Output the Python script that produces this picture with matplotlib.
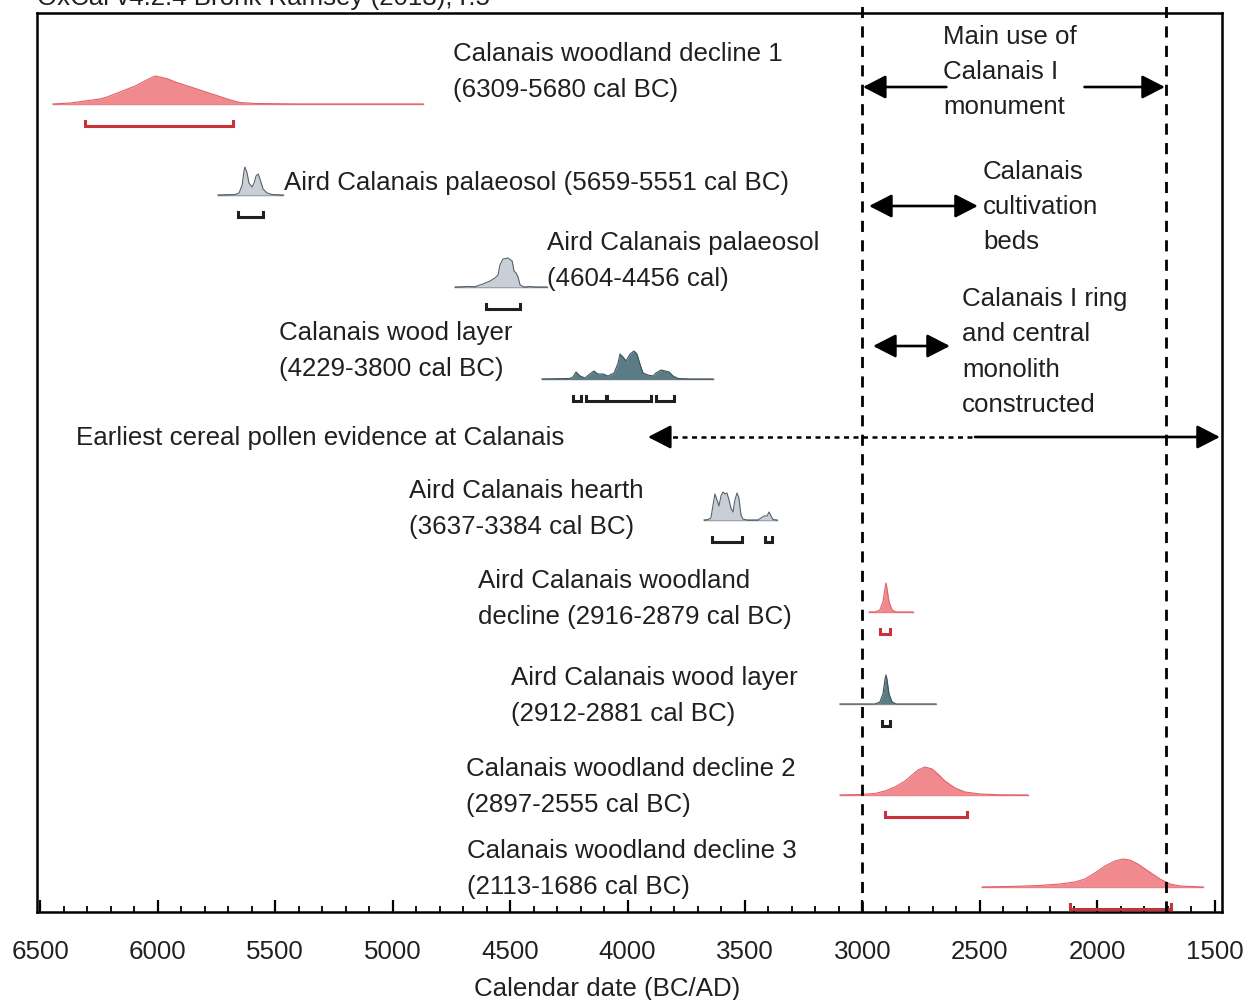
"""OxCal multi-plot: Calanais radiocarbon dates against monument phases."""

import matplotlib

matplotlib.use("Agg")
import matplotlib.pyplot as plt

plt.rcParams["font.family"] = ["Liberation Sans", "DejaVu Sans"]

TEXT = "#231f20"
FS = 18.6

# --- probability distributions (calendar year BC, relative height) ---
decline1_years = [6445, 6370, 6310, 6245, 6215, 6160, 6095, 6055, 6020, 6010, 5990,
                  5955, 5925, 5885, 5820, 5755, 5690, 5650, 5585, 5395, 4870]
decline1_dens = [0, 1, 3, 5, 7, 12, 18, 23, 27, 28, 27, 25, 22, 19, 14, 9, 4, 1.5, 0.5, 0, 0]

palaeo1_years = [5743, 5670, 5653, 5640, 5632, 5628, 5619, 5611, 5598, 5589, 5581,
                 5572, 5564, 5551, 5534, 5513, 5466]
palaeo1_dens = [0, 0.5, 2, 10, 24, 28, 22, 12, 8, 12, 19, 21, 16, 6, 2, 0.5, 0]

palaeo2_years = [4734, 4679, 4649, 4615, 4585, 4564, 4551, 4543, 4530, 4509, 4491,
                 4483, 4474, 4466, 4457, 4440, 4415, 4394, 4343]
palaeo2_dens = [0, 0.5, 0.3, 3, 6, 9, 12, 22, 28, 29, 26, 16, 14, 10, 2, 0, 0.5, 0, 0]

wood_years = [4364, 4245, 4232, 4219, 4202, 4181, 4160, 4143, 4126, 4104, 4083, 4057,
              4040, 4032, 4019, 4006, 3989, 3972, 3960, 3947, 3934, 3913, 3891, 3879,
              3857, 3840, 3823, 3806, 3785, 3734, 3636]
wood_dens = [0, 0.5, 2, 7, 3, 1, 5, 8, 5, 5, 3, 6, 16, 25, 22, 18, 25, 28, 25, 15, 6,
             4, 3, 6, 9, 8, 7, 3, 0.5, 0, 0]

hearth_years = [3674, 3657, 3645, 3636, 3628, 3619, 3611, 3602, 3594, 3585, 3577, 3568,
                3560, 3551, 3543, 3534, 3526, 3517, 3509, 3491, 3445, 3432, 3419, 3406,
                3398, 3389, 3381, 3364]
hearth_dens = [0, 0.5, 2, 15, 26, 20, 14, 24, 28, 26, 27, 20, 12, 8, 20, 27, 22, 5, 1,
               0, 0, 2, 4, 4, 8, 4, 0.5, 0]

aird_decl_years = [2972, 2947, 2926, 2913, 2904, 2900, 2896, 2887, 2874, 2857, 2785]
aird_decl_dens = [0, 0, 2, 10, 24, 29, 24, 10, 2, 0, 0]

aird_wood_years = [3096, 2947, 2926, 2913, 2904, 2900, 2896, 2887, 2874, 2857, 2687]
aird_wood_dens = [0, 0, 2, 10, 25, 29, 25, 10, 2, 0, 0]

decline2_years = [3096, 3011, 2947, 2904, 2862, 2819, 2789, 2764, 2734, 2704, 2679,
                  2649, 2606, 2564, 2500, 2415, 2296]
decline2_dens = [0, 0.5, 1.5, 4, 8, 14, 20, 25, 28, 26, 21, 14, 7, 3, 1, 0.2, 0]

decline3_years = [2491, 2372, 2245, 2160, 2096, 2053, 2011, 1968, 1926, 1891, 1862,
                  1828, 1785, 1734, 1691, 1649, 1551]
decline3_dens = [0, 0.5, 1.5, 3, 5, 8, 14, 21, 26, 28, 27, 23, 16, 8, 3, 1, 0]

# 95.4% ranges (cal BC)
decline1_range = [(6309, 5680)]
palaeo1_range = [(5659, 5551)]
palaeo2_range = [(4604, 4456)]
wood_range = [(4230, 4200), (4178, 4090), (4088, 3900), (3880, 3800)]
hearth_range = [(3640, 3513), (3415, 3385)]
aird_decl_range = [(2926, 2883)]
aird_wood_range = [(2915, 2881)]
decline2_range = [(2904, 2555)]
decline3_range = [(2117, 1687)]

labels = [
    "Calanais woodland decline 1\n(6309-5680 cal BC)",
    "Aird Calanais palaeosol (5659-5551 cal BC)",
    "Aird Calanais palaeosol\n(4604-4456 cal)",
    "Calanais wood layer\n(4229-3800 cal BC)",
    "Aird Calanais hearth\n(3637-3384 cal BC)",
    "Aird Calanais woodland\ndecline (2916-2879 cal BC)",
    "Aird Calanais wood layer\n(2912-2881 cal BC)",
    "Calanais woodland decline 2\n(2897-2555 cal BC)",
    "Calanais woodland decline 3\n(2113-1686 cal BC)",
]
label_x = [4743, 5462, 4343, 5483, 4930, 4636, 4496, 4687, 4683]
label_y = [72, 183, 261, 351, 509, 599, 696, 787, 869]

RED = dict(fill="#f08a8e", edge="#e0606a", base="#e8767c", bracket="#c8323a")
GREY = dict(fill="#c8cfd6", edge="#58626c", base="#6e7a85", bracket="#231f20")
SLATE = dict(fill="#5b7b85", edge="#3c5159", base="#6e7a85", bracket="#231f20")
SLATE2 = dict(SLATE, base="#a2a5a8")

rows = [
    (decline1_years, decline1_dens, decline1_range, 104, RED),
    (palaeo1_years, palaeo1_dens, palaeo1_range, 195, GREY),
    (palaeo2_years, palaeo2_dens, palaeo2_range, 287, GREY),
    (wood_years, wood_dens, wood_range, 379, SLATE),
    (hearth_years, hearth_dens, hearth_range, 520, GREY),
    (aird_decl_years, aird_decl_dens, aird_decl_range, 612, RED),
    (aird_wood_years, aird_wood_dens, aird_wood_range, 704, SLATE2),
    (decline2_years, decline2_dens, decline2_range, 795, RED),
    (decline3_years, decline3_dens, decline3_range, 887, RED),
]

phase_lines = [3000, 1710]

fig = plt.figure(figsize=(12.46, 10), dpi=100)
ax = fig.add_axes([37 / 1246, 0.088, 1185 / 1246, 0.899])
ax.set_xlim(6513, 1470)
ax.set_ylim(912, 13)

for years, dens, ranges, base, col in rows:
    top = [base - d for d in dens]
    ax.plot([years[0], years[-1]], [base, base], color=col["base"], lw=1.0, zorder=2)
    ax.fill_between(years, base, top, color=col["fill"], lw=0, zorder=3)
    ax.plot(years, top, color=col["edge"], lw=0.8, zorder=4)
    by = base + 22
    for a, b in ranges:
        ax.plot([a, a, b, b], [by - 5, by, by, by - 5], color=col["bracket"],
                lw=2.2, solid_joinstyle="miter", zorder=4)

for txt, x, y in zip(labels, label_x, label_y):
    ax.text(x, y, txt, fontsize=FS, color=TEXT, ha="left", va="center",
            linespacing=1.6, zorder=6)

for x in phase_lines:
    ax.plot([x, x], [912, -2], color="black", lw=2.0, ls=(0, (4, 3)),
            clip_on=False, zorder=5)

# phase annotations on the right
ax.text(2657, 72, "Main use of\nCalanais I\nmonument", fontsize=FS, color=TEXT,
        ha="left", va="center", linespacing=1.6)
ax.text(2487, 207, "Calanais\ncultivation\nbeds", fontsize=FS, color=TEXT,
        ha="left", va="center", linespacing=1.6)
ax.text(2577, 352, "Calanais I ring\nand central\nmonolith\nconstructed", fontsize=FS,
        color=TEXT, ha="left", va="center", linespacing=1.6)

arrow = dict(arrowstyle="-|>,head_length=0.7,head_width=0.36", mutation_scale=20,
             lw=1.9, color="black", shrinkA=0, shrinkB=0)
arrow2 = dict(arrow, arrowstyle="<|-|>,head_length=0.7,head_width=0.36")
ax.annotate("", xy=(2998, 87), xytext=(2643, 87), arrowprops=arrow)
ax.annotate("", xy=(1713, 87), xytext=(2055, 87), arrowprops=arrow)
ax.annotate("", xy=(2972, 206), xytext=(2509, 206), arrowprops=arrow2)
ax.annotate("", xy=(2955, 346), xytext=(2628, 346), arrowprops=arrow2)

# earliest cereal pollen
ax.plot([3850, 2521], [437, 437], color="black", lw=1.8, ls=(0, (2.0, 1.8)))
ax.annotate("", xy=(3913, 437), xytext=(3840, 437), arrowprops=arrow)
ax.annotate("", xy=(1479, 437), xytext=(2521, 437), arrowprops=dict(arrow, clip_on=False))
ax.text(6347, 438, "Earliest cereal pollen evidence at Calanais", fontsize=FS,
        color=TEXT, ha="left", va="center")

ax.set_xticks(range(6500, 1499, -500))
ax.set_xticks(range(6500, 1499, -100), minor=True)
ax.tick_params(axis="x", which="major", direction="in", length=9, width=1.6,
               labelsize=FS, pad=20.5, labelcolor=TEXT)
ax.tick_params(axis="x", which="minor", direction="in", length=4.5, width=1.3)
ax.set_yticks([])
for s in ax.spines.values():
    s.set_linewidth(1.8)

ax.set_xlabel("Calendar date (BC/AD)", fontsize=FS, color=TEXT, labelpad=9)
ax.xaxis.label.set_x(0.481)

fig.text(37 / 1246, 0.995, "OxCal v4.2.4 Bronk Ramsey (2013); r:5", fontsize=FS,
         color=TEXT, ha="left", va="baseline")

fig.savefig("out.png", dpi=100)
